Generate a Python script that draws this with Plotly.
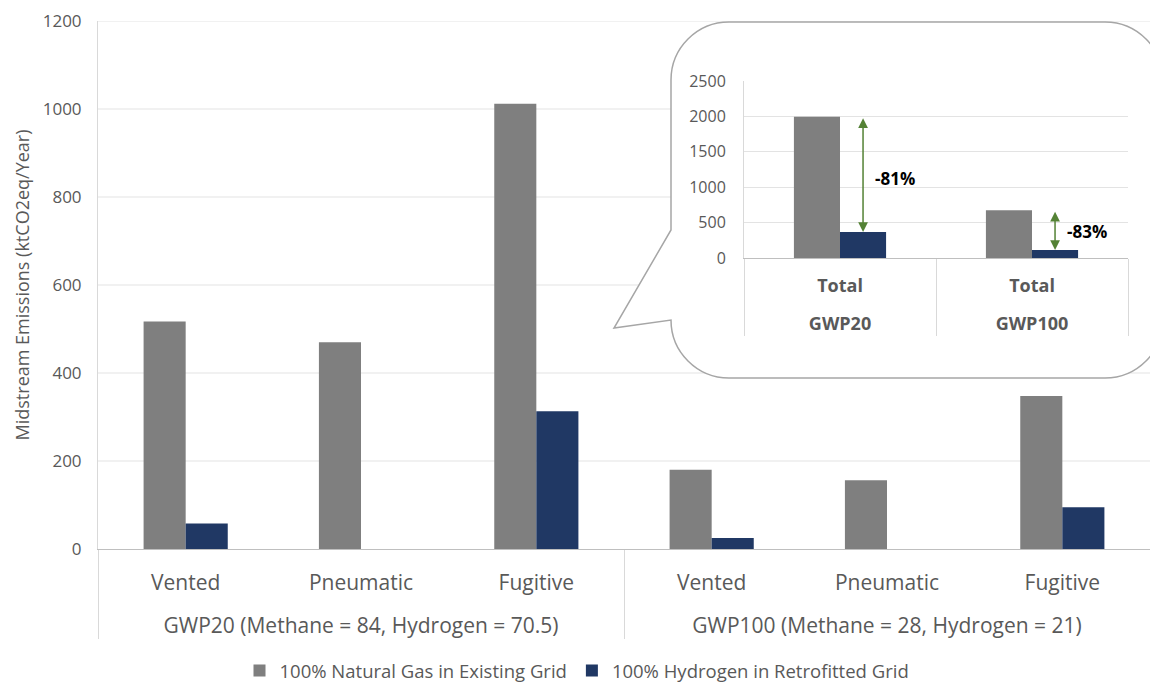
import plotly.graph_objects as go

# ---------------- data ----------------
groups = ["GWP20 (Methane = 84, Hydrogen = 70.5)"] * 3 + ["GWP100 (Methane = 28, Hydrogen = 21)"] * 3
sources = ["Vented", "Pneumatic", "Fugitive", "Vented", "Pneumatic", "Fugitive"]
natural_gas = [517, 470, 1012, 180, 156, 348]
hydrogen = [58, 0, 313, 25, 0, 95]

series_names = ["100% Natural Gas in Existing Grid", "100% Hydrogen in Retrofitted Grid"]

inset_groups = ["GWP20", "GWP100"]
inset_cats = ["Total", "Total"]
inset_ng = [1995, 676]
inset_h2 = [368, 112]
reduction_labels = ["-81%", "-83%"]

main_ticks = [0, 200, 400, 600, 800, 1000, 1200]
inset_ticks = [0, 500, 1000, 1500, 2000, 2500]

# ---------------- style ----------------
GRAY = "#7f7f7f"
BLUE = "#203864"
GREEN = "#548235"
TXT = "#595959"
FONT = "Open Sans"
W, H = 1150, 684
ML, MR, MT, MB = 98, 0, 21, 135
BARGAP = 0.52

PW = W - ML - MR
PH = H - MT - MB


def px2x(px):
    return (px - ML) / PW


def px2y(py):
    return (H - MB - py) / PH


# group labels drop one line below the category labels (as in the original two-level axis)
main_group_lbl = ["<br>" + g for g in groups]
inset_group_lbl = ["<br>" + g for g in inset_groups]

fig = go.Figure()
fig.add_trace(go.Bar(x=[main_group_lbl, sources], y=natural_gas, name=series_names[0],
                     marker=dict(color=GRAY, line=dict(width=0))))
fig.add_trace(go.Bar(x=[main_group_lbl, sources], y=hydrogen, name=series_names[1],
                     marker=dict(color=BLUE, line=dict(width=0))))

fig.add_trace(go.Bar(x=[inset_group_lbl, inset_cats], y=inset_ng, xaxis="x2", yaxis="y2",
                     marker=dict(color=GRAY, line=dict(width=0)), showlegend=False))
fig.add_trace(go.Bar(x=[inset_group_lbl, inset_cats], y=inset_h2, xaxis="x2", yaxis="y2",
                     marker=dict(color=BLUE, line=dict(width=0)), showlegend=False))

shapes = []
# main gridlines (drawn as shapes so the callout box can cover them)
for v in main_ticks[1:]:
    shapes.append(dict(type="line", xref="paper", yref="y", x0=0, x1=1, y0=v, y1=v,
                       line=dict(color="#e3e3e3", width=1), layer="below"))

# callout box
L, T, R, B, r = 671, 22, 1163, 378, 58
k = 0.552 * r
tip = (614, 328)
p_top = 230
p_bot = B - r


def P(px, py):
    return f"{px2x(px):.5f},{px2y(py):.5f}"


path = (
    f"M {P(L, T + r)} "
    f"C {P(L, T + r - k)} {P(L + r - k, T)} {P(L + r, T)} "
    f"L {P(R - r, T)} "
    f"C {P(R - r + k, T)} {P(R, T + r - k)} {P(R, T + r)} "
    f"L {P(R, B - r)} "
    f"C {P(R, B - r + k)} {P(R - r + k, B)} {P(R - r, B)} "
    f"L {P(L + r, B)} "
    f"C {P(L + r - k, B)} {P(L, B - r + k)} {P(L, p_bot)} "
    f"L {P(tip[0], tip[1])} "
    f"L {P(L, p_top)} Z"
)
shapes.append(dict(type="path", xref="paper", yref="paper", path=path,
                   fillcolor="white", line=dict(color="#a6a6a6", width=1.5), layer="below"))

annotations = []
off = (1 - BARGAP) / 4
for i in range(2):
    xd = (i + off + 0.5) / 2
    annotations.append(dict(xref="x2 domain", yref="y2", axref="x2 domain", ayref="y2",
                            x=xd, y=inset_h2[i], ax=xd, ay=inset_ng[i], text="",
                            showarrow=True, arrowside="end+start", arrowhead=2,
                            arrowsize=1.3, arrowwidth=1.5, arrowcolor=GREEN))
    annotations.append(dict(xref="x2 domain", yref="y2", x=xd,
                            y=(inset_ng[i] + inset_h2[i]) / 2 - (60 if i == 0 else 20),
                            text=f"<b>{reduction_labels[i]}</b>", showarrow=False,
                            xanchor="left", xshift=10, yanchor="middle",
                            font=dict(family=FONT, size=17, color="black")))

fig.update_layout(
    width=W, height=H,
    margin=dict(l=ML, r=MR, t=MT, b=MB, autoexpand=False),
    paper_bgcolor="white", plot_bgcolor="white",
    barmode="group", bargap=BARGAP, bargroupgap=0,
    font=dict(family=FONT, color=TXT),
    showlegend=True,
    legend=dict(orientation="h", x=px2x(577), xanchor="center", y=px2y(671), yanchor="middle",
                font=dict(family=FONT, size=18.5, color=TXT), traceorder="normal",
                itemwidth=30, bgcolor="rgba(0,0,0,0)"),
    xaxis=dict(type="multicategory", domain=[0, 1], automargin=False,
               showline=True, linecolor="#bfbfbf", linewidth=1,
               showgrid=False, ticks="", tickfont=dict(family=FONT, size=21, color=TXT),
               ticklabelstandoff=15,
               showdividers=True, dividercolor="#d9d9d9", dividerwidth=1),
    yaxis=dict(range=[0, 1200], tickvals=main_ticks, showgrid=False, zeroline=False, automargin=False,
               showline=True, linecolor="#d9d9d9", linewidth=1, ticks="",
               tickfont=dict(family=FONT, size=17, color=TXT), ticklabelstandoff=12,
               title=dict(text="Midstream Emissions (ktCO2eq/Year)", standoff=8,
                          font=dict(family=FONT, size=18, color=TXT))),
    xaxis2=dict(type="multicategory", anchor="y2", domain=[px2x(744), px2x(1128)], automargin=False,
                showline=True, linecolor="#bfbfbf", linewidth=1, showgrid=False, ticks="",
                tickfont=dict(family=FONT, size=18, color=TXT, weight="bold"),
                ticklabelstandoff=11,
                showdividers=True, dividercolor="#d9d9d9", dividerwidth=1),
    yaxis2=dict(anchor="x2", domain=[px2y(258), px2y(81)], range=[0, 2500], tickvals=inset_ticks,
                showgrid=True, gridcolor="#e3e3e3", gridwidth=1, zeroline=False, automargin=False,
                showline=True, linecolor="#d9d9d9", linewidth=1, ticks="",
                tickfont=dict(family=FONT, size=16, color=TXT), ticklabelstandoff=14),
    shapes=shapes,
    annotations=annotations,
)

fig.write_html("out.html", config={"displayModeBar": False},
               post_script="document.body.style.margin='0';document.body.style.overflow='hidden';")
